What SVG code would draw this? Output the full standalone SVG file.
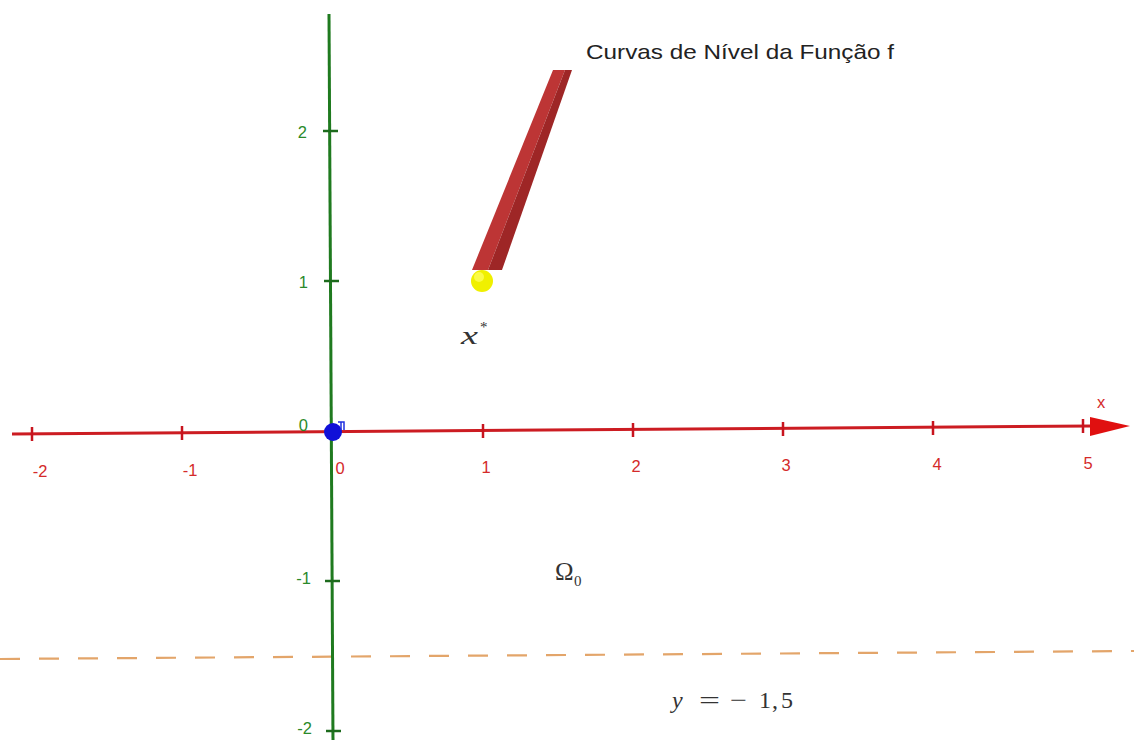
<svg xmlns="http://www.w3.org/2000/svg" width="1134" height="740" viewBox="0 0 1134 740">
<style>
.xl{font-family:"Liberation Sans",Arial,sans-serif;font-size:16.5px;fill:#d42a2a;text-anchor:middle}
.yl{font-family:"Liberation Sans",Arial,sans-serif;font-size:16.5px;fill:#2a8a2a;text-anchor:end}
.math{font-family:"Liberation Serif","Times New Roman",serif;fill:#333}
.xt{stroke:#c8141e;stroke-width:2.5}
.yt{stroke:#1d6b1d;stroke-width:2.5}
</style>
<rect width="1134" height="740" fill="#ffffff"/>
<g id="dashed-line">
<line x1="0" y1="659" x2="1134" y2="651" stroke="#e3a56a" stroke-width="2.2" stroke-dasharray="20,19"/>
</g>
<g id="connectors">
<g id="y-axis">
<line x1="329" y1="14" x2="333" y2="740" stroke="#1f7a1f" stroke-width="3"/>
<line class="yt" x1="323" y1="131" x2="338" y2="131"/>
<line class="yt" x1="324" y1="281" x2="339" y2="281"/>
<line class="yt" x1="325" y1="581" x2="340" y2="581"/>
<line class="yt" x1="326" y1="731" x2="341" y2="731"/>
</g>
<g id="x-axis">
<line x1="12" y1="434" x2="1092" y2="426" stroke="#cc1c22" stroke-width="3"/>
<polygon points="1090,417 1130,426 1090,436" fill="#e01010"/>
<line class="xt" x1="32" y1="427" x2="32" y2="441"/>
<line class="xt" x1="182" y1="426" x2="182" y2="440"/>
<line class="xt" x1="483" y1="424" x2="483" y2="438"/>
<line class="xt" x1="633" y1="423" x2="633" y2="437"/>
<line class="xt" x1="783" y1="422" x2="783" y2="436"/>
<line class="xt" x1="933" y1="421" x2="933" y2="435"/>
<line class="xt" x1="1083" y1="419" x2="1083" y2="433"/>
</g>
</g>
<g id="x-labels">
<text class="xl" x="1101" y="408">x</text>
<text class="xl" x="40" y="477">-2</text>
<text class="xl" x="190" y="476">-1</text>
<text class="xl" x="340" y="474">0</text>
<text class="xl" x="486" y="473">1</text>
<text class="xl" x="636" y="472">2</text>
<text class="xl" x="786" y="471">3</text>
<text class="xl" x="937" y="470">4</text>
<text class="xl" x="1088" y="469">5</text>
</g>
<g id="y-labels">
<text class="yl" x="307" y="138">2</text>
<text class="yl" x="308" y="288">1</text>
<text class="yl" x="308" y="431">0</text>
<text class="yl" x="311" y="584">-1</text>
<text class="yl" x="312" y="734">-2</text>
</g>
<g id="level-curve">
<polygon points="472,270 553,70 565,70 488,270" fill="#bd3535"/>
<polygon points="488,270 565,70 572,70 502,270" fill="#9e2626"/>
</g>
<g id="x-star-point">
<circle cx="482" cy="281" r="11" fill="#f0f000"/>
<circle cx="479" cy="277" r="5" fill="#ffff66" opacity="0.7"/>
</g>
<g id="origin-point">
<circle cx="333" cy="432" r="9" fill="#1010d8"/>
<path d="M338,422 h6 v8 M341,422 v8" stroke="#2030e0" stroke-width="1.5" fill="none"/>
</g>
<g id="labels">
<text x="586" y="59" font-family="Liberation Sans,Arial,sans-serif" font-size="21" fill="#222" textLength="308" lengthAdjust="spacingAndGlyphs">Curvas de Nível da Função f</text>
<text class="math" x="461" y="344" font-size="25" font-style="italic" textLength="17" lengthAdjust="spacingAndGlyphs">x</text>
<text class="math" x="480" y="332" font-size="15">*</text>
<text class="math" x="555" y="580" font-size="25">Ω</text>
<text class="math" x="574" y="586" font-size="15">0</text>
<text class="math" x="672" y="708" font-size="24" font-style="italic">y</text>
<text class="math" x="699" y="708" font-size="24" textLength="21" lengthAdjust="spacingAndGlyphs">=</text>
<text class="math" x="730" y="708" font-size="24" textLength="17" lengthAdjust="spacingAndGlyphs">−</text>
<text class="math" x="759" y="708" font-size="24">1</text>
<text class="math" x="772" y="708" font-size="24">,</text>
<text class="math" x="781" y="708" font-size="24">5</text>
</g>
</svg>
